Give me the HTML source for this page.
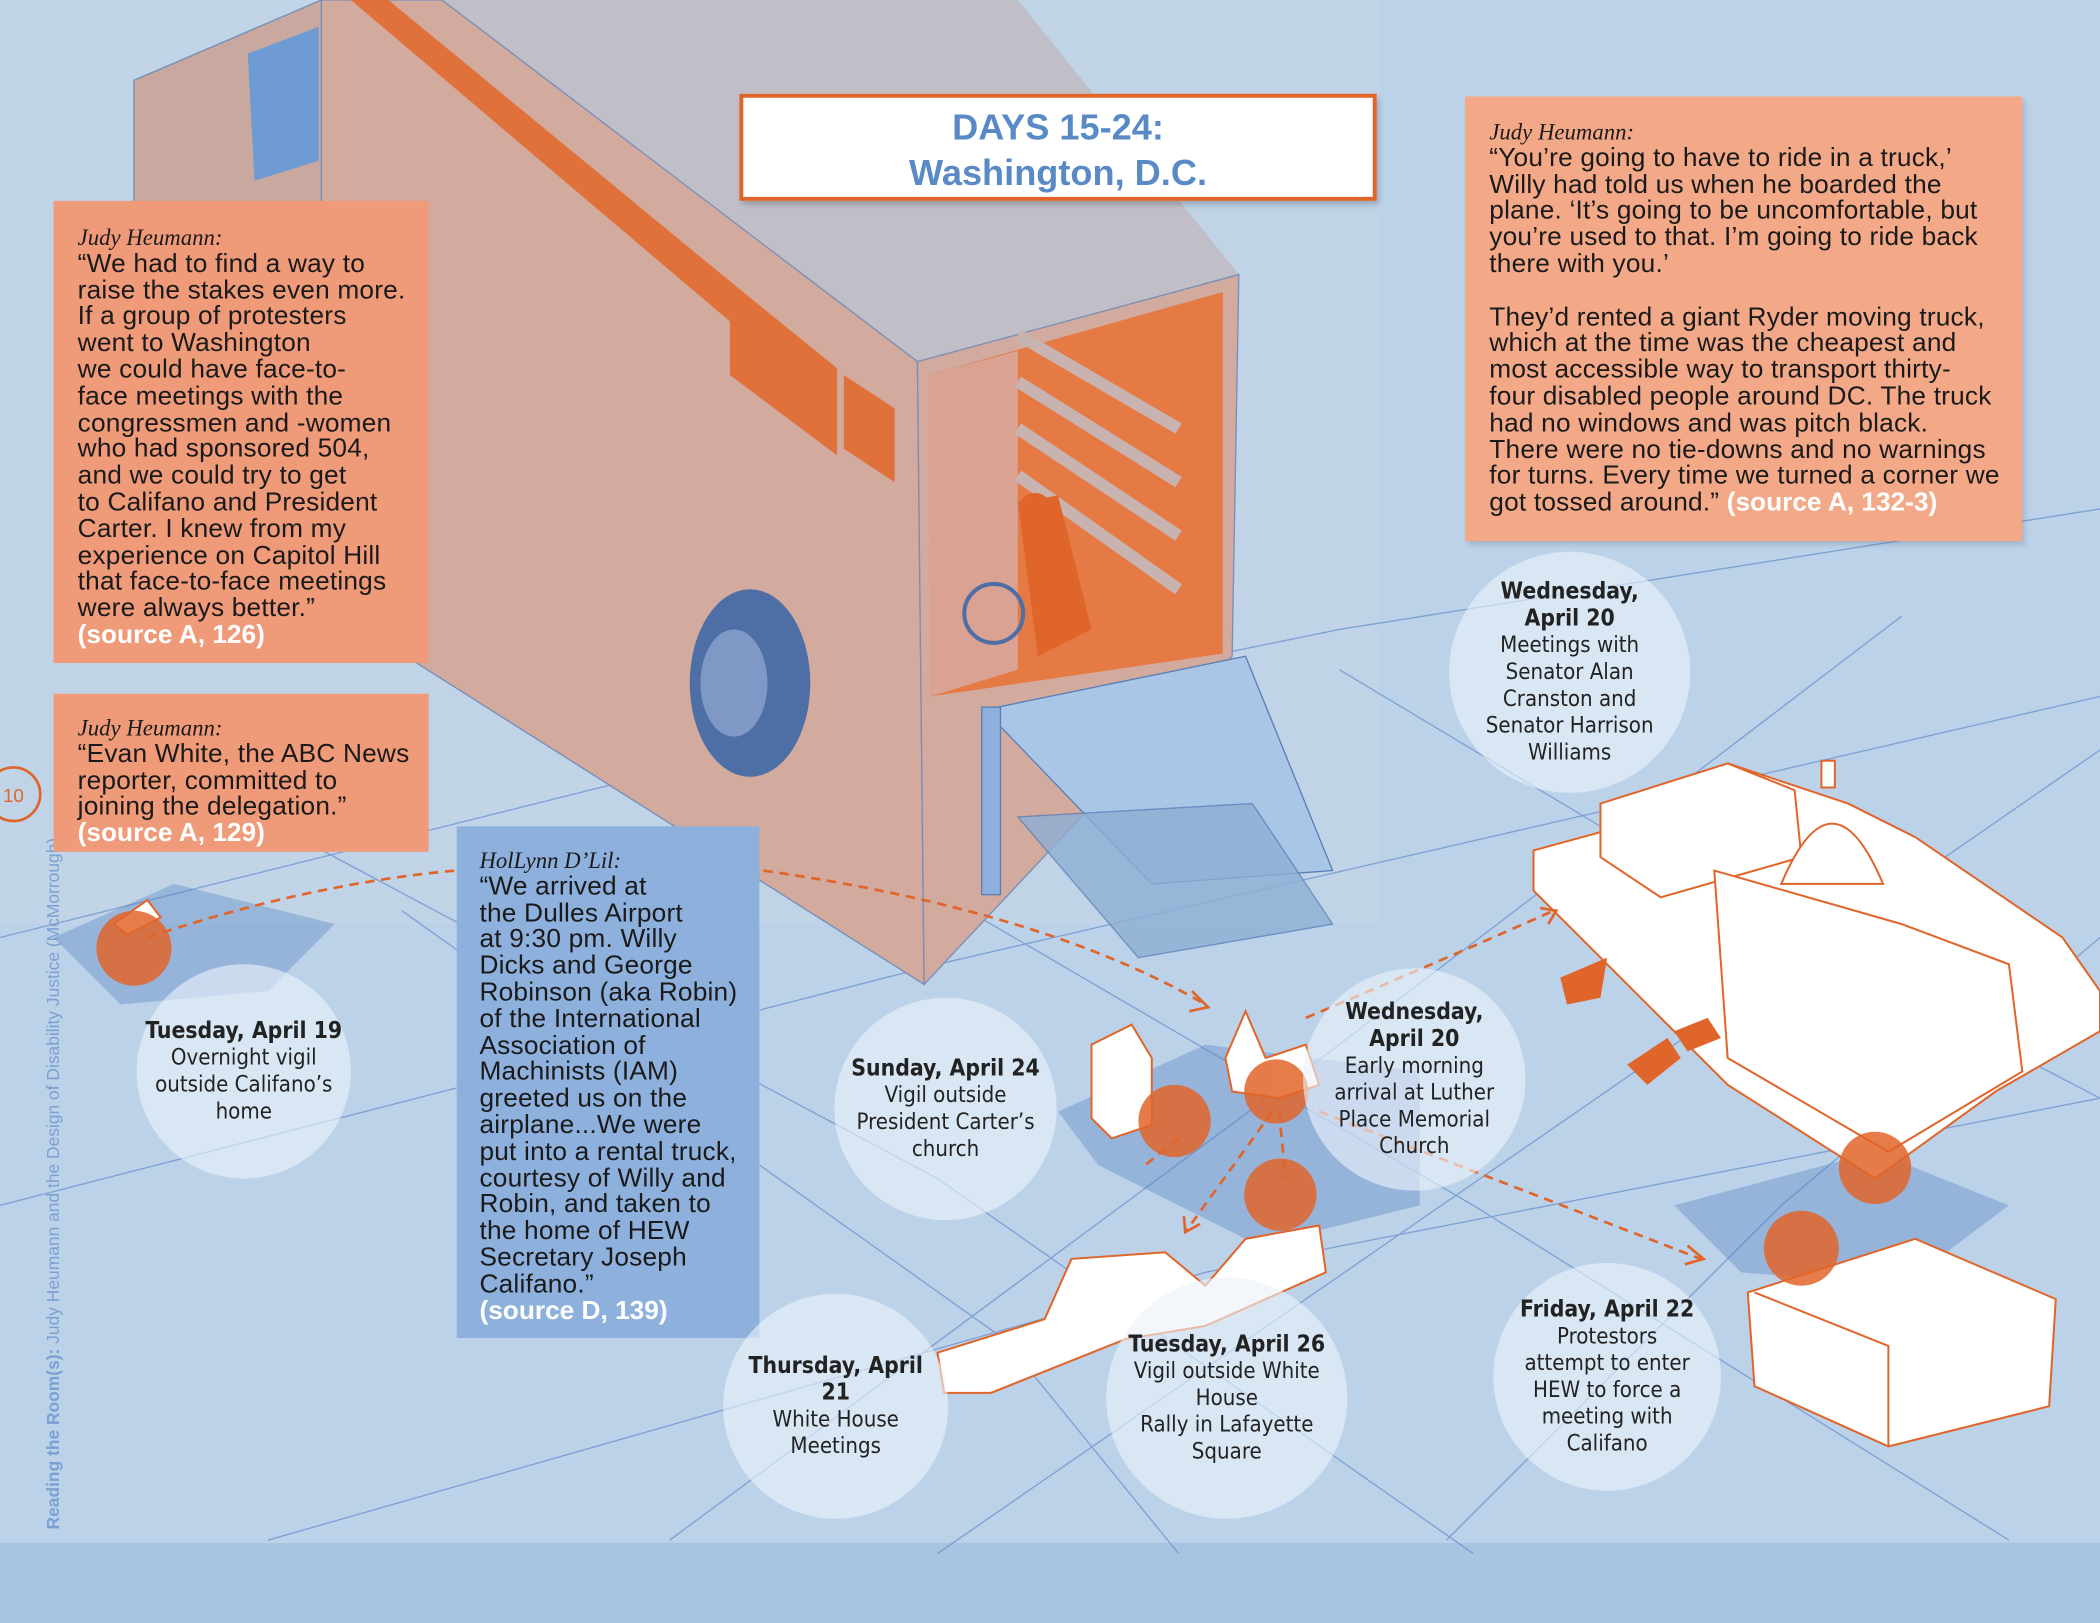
<!DOCTYPE html>
<html><head><meta charset="utf-8"><style>
html,body{margin:0;padding:0;width:2100px;height:1623px;overflow:hidden;background:#bcd2e9}
#w{position:absolute;left:0;top:0;width:1568px;height:1212px;transform:scale(1.33929);transform-origin:0 0;font-family:"Liberation Sans",sans-serif}
.box{position:absolute;box-sizing:border-box;color:#1a1a1a;font-size:19.6px;line-height:19.8px;letter-spacing:0.15px;white-space:nowrap}
.box i{font-family:"Liberation Serif",serif;font-size:17px;letter-spacing:0}
.src{color:#fff;font-weight:bold;letter-spacing:0}
.c{position:absolute;border-radius:50%;background:rgba(235,242,250,0.62);display:flex;align-items:center;justify-content:center;text-align:center;font-size:16.5px;line-height:20px;color:#222;font-family:"DejaVu Sans Condensed","Liberation Sans Narrow","Liberation Sans",sans-serif}
.c b{font-size:17px}
</style></head><body><div id="w">
<svg width="1568" height="1212" style="position:absolute;left:0;top:0">
<rect x="0" y="1152" width="1568" height="60" fill="#a9c4e1"/>
<rect x="0" y="0" width="1030" height="690" fill="#c3d3e6" opacity="0.5"/>
<g stroke="#6f95cf" stroke-width="1" fill="none" opacity="0.8">
<path d="M0 700 L560 560 L1000 470 L1568 380"/><path d="M0 900 L700 720 L1568 520"/>
<path d="M200 1150 L900 950 L1568 820"/><path d="M380 480 L1100 900 L1500 1150"/>
<path d="M100 560 L700 880 L1100 1160"/><path d="M1000 500 L1300 680 L1568 820"/>
<path d="M500 1150 L1000 780 L1420 460"/><path d="M700 1160 L1250 780 L1568 560"/>
<path d="M300 680 L750 1000 L880 1160"/><path d="M1080 1150 L1330 900 L1568 700"/>
</g>
<g fill="#4f7fc0" opacity="0.35">
<path d="M40 700 L130 660 L250 690 L200 740 L90 750Z"/><path d="M790 830 L900 780 L1060 800 L1060 900 L940 930 L820 870Z"/>
<path d="M1250 900 L1400 860 L1500 900 L1420 960 L1300 950Z"/>
</g>
<!-- truck -->
<path d="M240 0 L100 60 L100 200 L240 200Z" fill="#c8a89f" stroke="#7a8fb8"/>
<path d="M185 40 L238 20 L238 120 L190 135Z" fill="#6f9bd4"/>
<path d="M330 0 L760 0 L925 205 L685 270Z" fill="#c0bec7"/>
<path d="M240 0 L330 0 L685 270 L690 735 L240 450Z" fill="#d2aa9e" stroke="#7a8fb8"/>
<path d="M262 0 L290 0 L545 210 L545 240Z" fill="#e0713a"/>
<path d="M545 210 L625 275 L625 340 L545 280Z" fill="#e0713a"/>
<path d="M630 280 L668 305 L668 360 L630 335Z" fill="#e0713a"/>
<ellipse cx="560" cy="510" rx="45" ry="70" fill="#4e6ea6"/>
<ellipse cx="548" cy="510" rx="25" ry="40" fill="#7f98c6"/>
<path d="M685 270 L925 205 L920 490 L690 735Z" fill="#d2aa9e" stroke="#7a8fb8"/>
<path d="M693 280 L913 218 L913 488 L695 520Z" fill="#e57a44"/>
<path d="M693 280 L760 262 L760 500 L695 520Z" fill="#d9a292"/>
<g stroke="#c9b3b0" stroke-width="9"><path d="M760 250 L880 320"/><path d="M760 285 L880 360"/><path d="M760 320 L880 400"/><path d="M760 355 L880 440"/></g>
<path d="M760 375 L790 370 L815 470 L775 490Z" fill="#e0652a"/>
<circle cx="773" cy="380" r="12" fill="#e0652a"/>
<circle cx="742" cy="458" r="22" fill="none" stroke="#4e6ea6" stroke-width="3"/>
<path d="M735 530 L930 490 L995 650 L860 660Z" fill="#a9c6e6" stroke="#5a7fb8"/>
<path d="M760 610 L935 600 L995 690 L850 715Z" fill="#8eaed3" stroke="#5a7fb8" opacity="0.8"/>
<rect x="733" y="528" width="14" height="140" fill="#8eb0dc" stroke="#5a7fb8"/>
<!-- buildings -->
<g fill="#fff" stroke="#e0652a" stroke-width="1.5">
<path d="M1145 635 L1200 620 L1290 570 L1380 600 L1430 625 L1540 700 L1568 740 L1568 770 L1490 815 L1400 880 L1290 810 L1210 730 L1145 665Z"/>
<path d="M1195 600 L1290 570 L1340 590 L1345 640 L1240 670 L1195 640Z"/>
<path d="M1280 650 L1420 690 L1500 720 L1510 800 L1410 860 L1290 790Z"/>
<path d="M1330 660 Q1368 570 1406 660Z"/><rect x="1360" y="568" width="10" height="20"/>
<path d="M1305 965 L1430 925 L1535 970 L1530 1050 L1410 1080 L1310 1035Z"/>
<path d="M1310 965 L1410 1005 L1410 1080"/>
<path d="M700 1010 L780 985 L800 940 L870 935 L900 960 L930 925 L985 915 L990 950 L900 990 L840 1000 L740 1040 L705 1040Z"/>
<path d="M815 780 L845 765 L860 790 L860 840 L830 850 L815 835Z"/>
<path d="M915 790 L930 755 L945 790 L975 780 L985 810 L955 820 L920 815Z"/>
<path d="M85 690 L110 672 L120 685 L95 698Z"/>
</g>
<g fill="#e0652a"><path d="M1165 730 L1200 715 L1195 745 L1170 750Z"/><path d="M1215 795 L1245 775 L1255 790 L1230 810Z"/><path d="M1250 770 L1275 760 L1285 775 L1260 785Z"/></g>
<g fill="#e0652a" opacity="0.85">
<circle cx="100" cy="708" r="28"/><circle cx="877" cy="837" r="27"/><circle cx="953" cy="815" r="24"/>
<circle cx="956" cy="892" r="27"/><circle cx="1400" cy="872" r="27"/><circle cx="1345" cy="932" r="28"/>
</g>
<g fill="none" stroke="#e0652a" stroke-width="2" stroke-dasharray="7 5">
<path d="M110 700 Q230 660 340 650"/><path d="M570 650 Q780 680 900 750"/>
<path d="M975 760 Q1070 720 1160 680"/><path d="M985 830 L1270 940"/>
<path d="M950 830 L885 920"/><path d="M955 830 L960 880"/><path d="M880 850 L855 870"/>
</g>
<g fill="none" stroke="#e0652a" stroke-width="2"><path d="M890 740 L902 752 L888 755"/><path d="M1150 678 L1162 680 L1156 690"/><path d="M1260 930 L1272 940 L1258 944"/><path d="M884 908 L885 920 L896 914"/></g>
<circle cx="10" cy="593" r="20" fill="none" stroke="#e0652a" stroke-width="2"/>
<text x="10" y="599" font-size="14" fill="#e0652a" text-anchor="middle" font-family="Liberation Sans">10</text>
<text transform="translate(44,1142) rotate(-90)" font-size="13" fill="#7ba0d2" font-family="Liberation Sans"><tspan font-weight="bold">Reading the Room(s):</tspan> Judy Heumann and the Design of Disability Justice (McMorrough)</text>
</svg>
<div style="position:absolute;left:552px;top:70px;width:476px;height:80px;box-sizing:border-box;border:3px solid #e0652a;background:#fff;text-align:center;color:#5a8ac6;font-weight:bold;font-size:27px;line-height:34px;padding-top:5px;box-shadow:2px 3px 4px rgba(0,0,0,0.2)">DAYS 15-24:<br>Washington, D.C.</div>
<div class="box" style="left:40px;top:150px;width:280px;height:345px;background:#ef9a78;padding:18px 0 0 18px"><i>Judy Heumann:</i><br>“We had to find a way to<br>raise the stakes even more.<br>If a group of protesters<br>went to Washington<br>we could have face-to-<br>face meetings with the<br>congressmen and -women<br>who had sponsored 504,<br>and we could try to get<br>to Califano and President<br>Carter. I knew from my<br>experience on Capitol Hill<br>that face-to-face meetings<br>were always better.”<br><span class="src">(source A, 126)</span></div>
<div class="box" style="left:40px;top:518px;width:280px;height:118px;background:#ef9a78;padding:16px 0 0 18px"><i>Judy Heumann:</i><br>“Evan White, the ABC News<br>reporter, committed to<br>joining the delegation.”<br><span class="src">(source A, 129)</span></div>
<div class="box" style="left:341px;top:617px;width:226px;height:382px;background:#8eb0dc;padding:16px 0 0 17px"><i>HolLynn D’Lil:</i><br>“We arrived at<br>the Dulles Airport<br>at 9:30 pm. Willy<br>Dicks and George<br>Robinson (aka Robin)<br>of the International<br>Association of<br>Machinists (IAM)<br>greeted us on the<br>airplane...We were<br>put into a rental truck,<br>courtesy of Willy and<br>Robin, and taken to<br>the home of HEW<br>Secretary Joseph<br>Califano.”<br><span class="src">(source D, 139)</span></div>
<div class="box" style="left:1094px;top:72px;width:416px;height:332px;background:#f3a988;padding:17px 0 0 18px;box-shadow:2px 3px 4px rgba(0,0,0,0.15)"><i>Judy Heumann:</i><br>“You’re going to have to ride in a truck,’<br>Willy had told us when he boarded the<br>plane. ‘It’s going to be uncomfortable, but<br>you’re used to that. I’m going to ride back<br>there with you.’<br><br>They’d rented a giant Ryder moving truck,<br>which at the time was the cheapest and<br>most accessible way to transport thirty-<br>four disabled people around DC. The truck<br>had no windows and was pitch black.<br>There were no tie-downs and no warnings<br>for turns. Every time we turned a corner we<br>got tossed around.” <span class="src">(source A, 132-3)</span></div>
<div class="c" style="left:102px;top:720px;width:160px;height:160px"><div><b>Tuesday, April 19</b><br>Overnight vigil<br>outside Califano’s<br>home</div></div>
<div class="c" style="left:1082px;top:412px;width:180px;height:180px"><div><b>Wednesday,<br>April 20</b><br>Meetings with<br>Senator Alan<br>Cranston and<br>Senator Harrison<br>Williams</div></div>
<div class="c" style="left:623px;top:745px;width:166px;height:166px"><div><b>Sunday, April 24</b><br>Vigil outside<br>President Carter’s<br>church</div></div>
<div class="c" style="left:973px;top:723px;width:166px;height:166px"><div><b>Wednesday,<br>April 20</b><br>Early morning<br>arrival at Luther<br>Place Memorial<br>Church</div></div>
<div class="c" style="left:540px;top:966px;width:168px;height:168px"><div><b>Thursday, April<br>21</b><br>White House<br>Meetings</div></div>
<div class="c" style="left:826px;top:954px;width:180px;height:180px"><div><b>Tuesday, April 26</b><br>Vigil outside White<br>House<br>Rally in Lafayette<br>Square</div></div>
<div class="c" style="left:1115px;top:943px;width:170px;height:170px"><div><b>Friday, April 22</b><br>Protestors<br>attempt to enter<br>HEW to force a<br>meeting with<br>Califano</div></div>
</div></body></html>
